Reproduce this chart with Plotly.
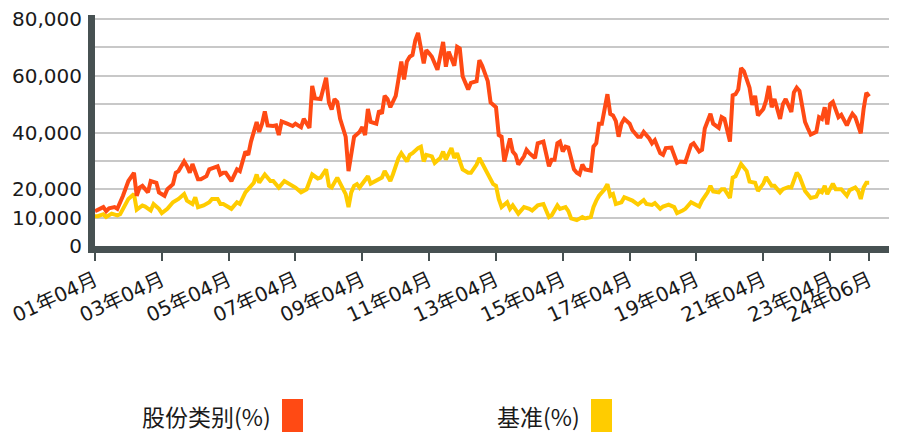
import plotly.graph_objects as go

# ---------------- data ----------------
fund_dates = [
    "2001-04", "2001-05", "2001-07", "2001-08", "2001-09", "2001-11", "2001-12",
    "2002-02", "2002-03", "2002-04", "2002-06", "2002-07", "2002-08", "2002-09", "2002-11", "2002-12",
    "2003-02", "2003-03", "2003-05", "2003-06", "2003-08", "2003-09", "2003-10", "2003-12",
    "2004-01", "2004-02", "2004-03", "2004-05", "2004-06", "2004-08", "2004-09", "2004-11", "2004-12",
    "2005-01", "2005-02", "2005-03", "2005-05", "2005-07", "2005-08", "2005-10", "2005-11", "2005-12",
    "2006-02", "2006-03", "2006-04", "2006-05", "2006-06", "2006-08", "2006-09", "2006-10", "2006-11",
    "2007-01", "2007-03", "2007-04", "2007-06", "2007-07", "2007-09", "2007-10", "2007-11",
    "2008-01", "2008-03", "2008-04", "2008-05", "2008-06", "2008-07", "2008-08", "2008-10", "2008-11", "2008-12",
    "2009-01", "2009-03", "2009-04", "2009-05", "2009-06", "2009-07", "2009-09", "2009-10", "2009-11", "2009-12",
    "2010-01", "2010-02", "2010-04", "2010-05", "2010-06", "2010-07", "2010-08", "2010-09", "2010-10", "2010-11", "2010-12",
    "2011-02", "2011-03", "2011-04", "2011-05", "2011-07", "2011-08", "2011-09", "2011-10", "2011-11",
    "2012-01", "2012-02", "2012-03", "2012-04", "2012-06", "2012-07", "2012-09", "2012-10", "2012-11",
    "2013-01", "2013-02", "2013-04", "2013-05", "2013-06", "2013-07", "2013-08", "2013-09", "2013-10", "2013-11", "2013-12",
    "2014-02", "2014-03", "2014-04", "2014-06", "2014-07", "2014-09", "2014-11", "2014-12",
    "2015-01", "2015-02", "2015-03", "2015-04", "2015-05", "2015-06", "2015-08", "2015-09", "2015-10", "2015-11", "2015-12",
    "2016-02", "2016-03", "2016-04", "2016-05", "2016-06", "2016-08", "2016-09", "2016-10", "2016-11", "2016-12",
    "2017-01", "2017-02", "2017-04", "2017-05", "2017-07", "2017-08", "2017-09", "2017-11", "2017-12",
    "2018-01", "2018-03", "2018-04", "2018-05", "2018-07", "2018-09", "2018-10", "2018-12",
    "2019-02", "2019-03", "2019-05", "2019-06", "2019-07", "2019-09", "2019-10", "2019-12",
    "2020-01", "2020-02", "2020-04", "2020-05", "2020-06", "2020-07", "2020-08", "2020-09", "2020-11", "2020-12",
    "2021-01", "2021-02", "2021-04", "2021-05", "2021-06", "2021-07", "2021-08", "2021-10", "2021-11", "2021-12",
    "2022-02", "2022-03", "2022-04", "2022-05", "2022-07", "2022-08", "2022-09", "2022-11", "2022-12",
    "2023-01", "2023-02", "2023-03", "2023-04", "2023-05", "2023-06", "2023-07", "2023-08", "2023-10", "2023-11", "2023-12",
    "2024-01", "2024-03", "2024-04", "2024-05", "2024-06",
]
fund_values = [
    12300, 12800, 13700, 12300, 13300, 13700, 13100,
    17700, 20600, 22900, 25800, 17700, 20600, 21200, 18900, 22900,
    22300, 18900, 17700, 20000, 21800, 25800, 26400, 29800,
    28100, 25800, 28900, 23500, 23500, 24600, 27000, 27800, 28100,
    25200, 25800, 25800, 22900, 27000, 26400, 33300, 32100, 36800,
    43700, 40200, 43100, 47400, 42500, 42300, 42500, 39100, 43900,
    43100, 42300, 43100, 41900, 44800, 41600, 56400, 52000,
    51800, 59300, 50600, 48100, 51800, 50800, 44800, 38500, 26400, 33300,
    38500, 40200, 41900, 39100, 48300, 43700, 43100, 47700, 46600, 52900,
    51800, 48900, 52900, 58700, 65000, 58700, 65000, 66700, 67300, 72500, 75100,
    64400, 69000, 67900, 66700, 62100, 66700, 71900, 63200, 68500,
    63500, 70200, 69600, 59800, 55200, 57500, 58100, 65500, 63500,
    58100, 50600, 48900, 39100, 38500, 29800, 34500, 37900, 33300, 32100, 28700,
    31600, 33900, 32700, 31000, 36200, 36800, 28100, 30400,
    30400, 36200, 36800, 33300, 35000, 34700, 27000, 25800, 25200, 28700, 27000,
    26600, 35000, 36200, 43100, 43100, 53500, 46500, 46000, 44000, 38500,
    43100, 44800, 43100, 40800, 38500, 38500, 40200, 37900, 36200,
    37300, 32700, 32100, 34500, 34700, 29300, 29800, 29600,
    35600, 36200, 33300, 33900, 41400, 46600, 43100, 41600,
    45400, 44800, 36800, 53100, 53500, 55200, 62700, 61600, 55800, 49700,
    52900, 46000, 48300, 51200, 56400, 48900, 51800, 44800, 50000, 51800,
    47200, 54100, 55800, 54700, 43700, 41400, 39300, 40200, 45400,
    44800, 48900, 42800, 50000, 50800, 47700, 45400, 46200, 42500, 44800, 46600,
    45400, 39700, 48300, 54000, 52700,
]

bench_dates = [
    "2001-04", "2001-05", "2001-07", "2001-08", "2001-10", "2001-12",
    "2002-01", "2002-03", "2002-04", "2002-06", "2002-07", "2002-09", "2002-10", "2002-12",
    "2003-01", "2003-03", "2003-04", "2003-06", "2003-08", "2003-10", "2003-12",
    "2004-01", "2004-03", "2004-04", "2004-05", "2004-07", "2004-09", "2004-10", "2004-12",
    "2005-01", "2005-02", "2005-03", "2005-05", "2005-07", "2005-08", "2005-10", "2005-11",
    "2006-01", "2006-02", "2006-03", "2006-05", "2006-07", "2006-08", "2006-10", "2006-12",
    "2007-02", "2007-04", "2007-06", "2007-08", "2007-10", "2007-12",
    "2008-01", "2008-03", "2008-04", "2008-05", "2008-07", "2008-09", "2008-10", "2008-11", "2008-12",
    "2009-01", "2009-02", "2009-03", "2009-05", "2009-06", "2009-07", "2009-09", "2009-11", "2009-12",
    "2010-02", "2010-03", "2010-05", "2010-06", "2010-08", "2010-09", "2010-10", "2010-12",
    "2011-01", "2011-02", "2011-03", "2011-05", "2011-06", "2011-08", "2011-09", "2011-10", "2011-12",
    "2012-01", "2012-02", "2012-04", "2012-06", "2012-07", "2012-09", "2012-10", "2012-11",
    "2013-01", "2013-03", "2013-04", "2013-05", "2013-06", "2013-08", "2013-09", "2013-10", "2013-12",
    "2014-02", "2014-04", "2014-05", "2014-07", "2014-09", "2014-11", "2014-12",
    "2015-02", "2015-03", "2015-05", "2015-06", "2015-07", "2015-09", "2015-11", "2015-12",
    "2016-02", "2016-03", "2016-04", "2016-05", "2016-07", "2016-08", "2016-09", "2016-10", "2016-11",
    "2017-01", "2017-02", "2017-04", "2017-05", "2017-07", "2017-09", "2017-10", "2017-12",
    "2018-01", "2018-03", "2018-04", "2018-06", "2018-08", "2018-09", "2018-11", "2018-12",
    "2019-02", "2019-03", "2019-05", "2019-06", "2019-08", "2019-09", "2019-10", "2019-12",
    "2020-01", "2020-02", "2020-04", "2020-05", "2020-06", "2020-08", "2020-09", "2020-10", "2020-11",
    "2021-01", "2021-02", "2021-04", "2021-05", "2021-07", "2021-08", "2021-10", "2021-11",
    "2022-01", "2022-02", "2022-04", "2022-05", "2022-07", "2022-09", "2022-11", "2022-12",
    "2023-01", "2023-02", "2023-03", "2023-05", "2023-06", "2023-08", "2023-10", "2023-11",
    "2024-01", "2024-02", "2024-03", "2024-04", "2024-05", "2024-06",
]
bench_values = [
    10500, 10500, 11200, 10200, 11400, 10800,
    11200, 14300, 16600, 18300, 12800, 14300, 13900, 12500,
    14800, 13100, 11600, 13100, 15400, 16600, 18300,
    16000, 14800, 17200, 13700, 14300, 15400, 16600, 16600,
    14800, 14800, 14300, 13100, 15400, 14800, 18900, 20000,
    22300, 25200, 22300, 25200, 22900, 22900, 20600, 22900,
    21800, 20600, 18900, 20000, 25200, 23800,
    24100, 27000, 21200, 20600, 24100, 20000, 18300, 13700, 18900,
    21200, 21800, 20600, 22900, 24600, 22000, 22900, 24100, 26400,
    22900, 25200, 31000, 32700, 29800, 32100, 32700, 34500,
    35000, 29800, 32100, 31600, 29300, 31000, 33300, 30400, 34500,
    31000, 32700, 27000, 25800, 25800, 28700, 31000, 29000,
    25200, 21800, 21200, 16600, 13700, 15400, 13100, 14300, 11400,
    13700, 13100, 12500, 14300, 14800, 10200, 10800,
    14300, 13100, 13700, 12300, 9700, 9100, 10200, 9700,
    10200, 13700, 16000, 17700, 20000, 21800, 17700, 18300, 14800,
    15400, 17200, 16600, 16000, 14600, 16200, 14800, 14500,
    15100, 13100, 13900, 14600, 13700, 11600, 12500, 13100,
    15400, 14800, 13900, 16000, 18900, 21200, 19200, 18900,
    20000, 20000, 16900, 24100, 24600, 28900, 27500, 26400, 22700,
    22300, 19400, 22000, 24300, 21200, 21200, 18900, 20000,
    20800, 20600, 25800, 24600, 19400, 16900, 17400, 19400,
    18900, 21200, 18300, 22000, 20000, 20000, 17700, 19700,
    20600, 19400, 16600, 20600, 22300, 22300,
]

series_names = ["股份类别(%)", "基准(%)"]
series_colors = ["#ff4a14", "#ffcc00"]

x_tick_dates = ["2001-04-01", "2003-04-01", "2005-04-01", "2007-04-01", "2009-04-01",
                "2011-04-01", "2013-04-01", "2015-04-01", "2017-04-01", "2019-04-01",
                "2021-04-01", "2023-04-01", "2024-06-01"]
x_tick_labels = ["01年04月", "03年04月", "05年04月", "07年04月", "09年04月", "11年04月",
                 "13年04月", "15年04月", "17年04月", "19年04月", "21年04月", "23年04月",
                 "24年06月"]
y_tick_values = [0, 10000, 20000, 30000, 40000, 50000, 60000, 70000, 80000]
y_tick_labels = ["0", "10,000", "20,000", "", "40,000", "", "60,000", "", "80,000"]

# ---------------- figure ----------------
# the page body has an 8px margin, so the figure is laid out in page pixels minus 8
OFF = 8
W, H = 897 - OFF, 432 - OFF
ML, MR, MT, MB = 95 - OFF, 0, 15 - OFF, 186
axis_color = "#475152"

fig = go.Figure()
fig.add_trace(go.Scatter(x=bench_dates, y=bench_values, mode="lines", name=series_names[1],
                         line=dict(color=series_colors[1], width=4), showlegend=False,
                         hoverinfo="skip"))
fig.add_trace(go.Scatter(x=fund_dates, y=fund_values, mode="lines", name=series_names[0],
                         line=dict(color=series_colors[0], width=4), showlegend=False,
                         hoverinfo="skip"))

fig.update_layout(
    width=W, height=H,
    margin=dict(l=ML, r=MR, t=MT, b=MB, pad=0, autoexpand=False),
    paper_bgcolor="white", plot_bgcolor="white",
    font=dict(family="DejaVu Sans, Noto Sans CJK SC, sans-serif", color="#1a1a1a", size=20),
    showlegend=False,
)
fig.update_xaxes(
    type="date", range=["2001-04-01", "2025-04-01"], automargin=False,
    tickmode="array", tickvals=x_tick_dates, ticktext=x_tick_labels,
    tickangle=-25, tickfont=dict(size=20), ticklabeloverflow="allow",
    ticks="outside", ticklen=8, tickwidth=2, tickcolor=axis_color,
    showline=True, linecolor=axis_color, linewidth=7,
    showgrid=False, zeroline=False,
)
fig.update_yaxes(
    range=[0, 81410], automargin=False,
    tickmode="array", tickvals=y_tick_values, ticktext=y_tick_labels,
    tickfont=dict(size=20), ticklabeloverflow="allow",
    ticks="", ticklabelstandoff=2,
    showline=True, linecolor=axis_color, linewidth=7,
    showgrid=True, gridcolor="#c8c8c8", gridwidth=2, zeroline=False,
)

# legend drawn below the chart: label text followed by a colour swatch
pw, ph = W - ML - MR, H - MT - MB
def px_x(v):
    return (v - OFF - ML) / pw
def px_y(v):
    return (H - MB - (v - OFF)) / ph

legend_text_right = [273, 582]
legend_box_left = [282, 591]
for name, color, tr, bl in zip(series_names, series_colors, legend_text_right, legend_box_left):
    fig.add_annotation(x=px_x(tr), y=px_y(416), xref="paper", yref="paper",
                       text=name, showarrow=False, xanchor="right", yanchor="middle",
                       font=dict(family="Noto Sans CJK SC, sans-serif", size=23, color="#1a1a1a"))
    fig.add_shape(type="rect", xref="paper", yref="paper",
                  x0=px_x(bl), x1=px_x(bl + 21), y0=px_y(399), y1=px_y(445),
                  fillcolor=color, line=dict(width=0))

fig.write_html("out.html")
